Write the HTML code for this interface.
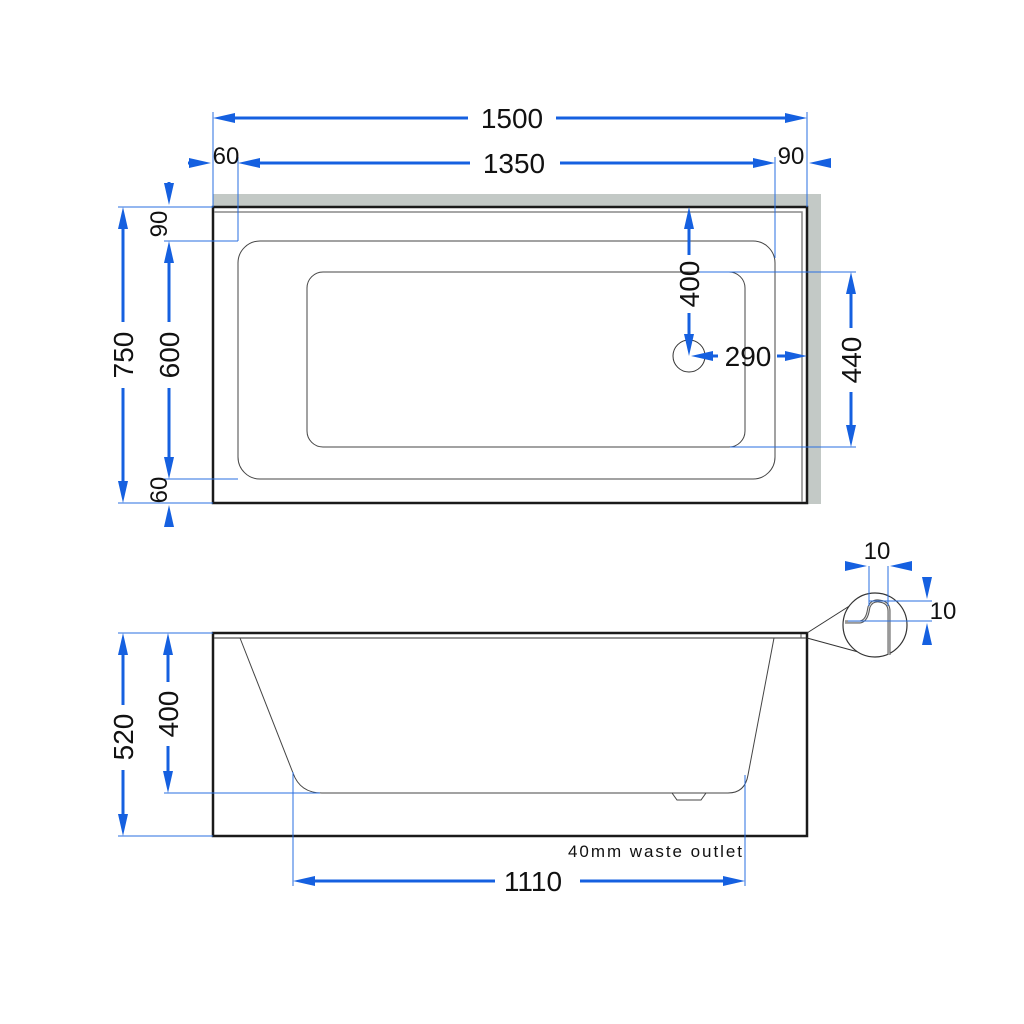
<!DOCTYPE html>
<html><head><meta charset="utf-8"><style>
html,body{margin:0;padding:0;background:#fff}
svg{display:block}
text{font-family:"Liberation Sans",sans-serif;fill:#111}
</style></head><body>
<svg width="1024" height="1024" viewBox="0 0 1024 1024" xmlns="http://www.w3.org/2000/svg">
<rect width="1024" height="1024" fill="#fff"/>
<!-- TOP VIEW -->
<rect x="213" y="194" width="608" height="13" fill="#c3c9c6"/>
<rect x="807" y="194" width="14" height="310" fill="#c3c9c6"/>
<rect x="213" y="207" width="594" height="296" fill="#fff" stroke="#1a1a1a" stroke-width="2.5"/>
<polyline points="214,212 802,212 802,502" fill="none" stroke="#888" stroke-width="1.5"/>
<rect x="238" y="241" width="537" height="238" rx="22" fill="none" stroke="#444" stroke-width="1"/>
<rect x="307" y="272" width="438" height="175" rx="16" fill="none" stroke="#444" stroke-width="1"/>
<circle cx="689" cy="356" r="16" fill="none" stroke="#333" stroke-width="1"/>

<g stroke="#2a6fe0" stroke-width="1" fill="none">
<line x1="213" y1="112" x2="213" y2="207"/>
<line x1="807" y1="112" x2="807" y2="207"/>
<line x1="238" y1="157" x2="238" y2="241"/>
<line x1="775" y1="157" x2="775" y2="258"/>
<line x1="118" y1="207" x2="213" y2="207"/>
<line x1="118" y1="503" x2="213" y2="503"/>
<line x1="164" y1="241" x2="238" y2="241"/>
<line x1="164" y1="479" x2="238" y2="479"/>
<line x1="700" y1="272" x2="856" y2="272"/>
<line x1="730" y1="447" x2="856" y2="447"/>
</g>
<g stroke="#1560e0" stroke-width="3" fill="none">
<line x1="225" y1="118" x2="468" y2="118"/><line x1="556" y1="118" x2="795" y2="118"/>
<line x1="250" y1="163" x2="470" y2="163"/><line x1="560" y1="163" x2="763" y2="163"/>
<line x1="123" y1="219" x2="123" y2="322"/><line x1="123" y1="388" x2="123" y2="491"/>
<line x1="169" y1="253" x2="169" y2="322"/><line x1="169" y1="388" x2="169" y2="467"/>
<line x1="689" y1="219" x2="689" y2="255"/><line x1="689" y1="313" x2="689" y2="344"/>
<line x1="701" y1="356" x2="718" y2="356"/><line x1="777" y1="356" x2="795" y2="356"/>
<line x1="851" y1="284" x2="851" y2="328"/><line x1="851" y1="392" x2="851" y2="435"/>
<line x1="188" y1="163" x2="200" y2="163"/><line x1="830" y1="163" x2="820" y2="163"/>
<line x1="169" y1="182" x2="169" y2="190"/><line x1="169" y1="525" x2="169" y2="518"/>
</g>
<g fill="#1560e0">
<polygon points="213,118 235,113 235,123"/><polygon points="807,118 785,113 785,123"/>
<polygon points="238,163 260,158 260,168"/><polygon points="775,163 753,158 753,168"/>
<polygon points="211,163 189,158 189,168"/><polygon points="809,163 831,158 831,168"/>
<polygon points="123,207 118,229 128,229"/><polygon points="123,503 118,481 128,481"/>
<polygon points="169,241 164,263 174,263"/><polygon points="169,479 164,457 174,457"/>
<polygon points="169,205 164,183 174,183"/><polygon points="169,505 164,527 174,527"/>
<polygon points="689,207 684,229 694,229"/><polygon points="689,356 684,334 694,334"/>
<polygon points="691,356 713,351 713,361"/><polygon points="807,356 785,351 785,361"/>
<polygon points="851,272 846,294 856,294"/><polygon points="851,447 846,425 856,425"/>
</g>
<g font-size="28">
<text x="512" y="128" text-anchor="middle">1500</text>
<text x="514" y="173" text-anchor="middle">1350</text>
<text x="226" y="164" text-anchor="middle" font-size="24">60</text>
<text x="791" y="164" text-anchor="middle" font-size="24">90</text>
<text x="748" y="366" text-anchor="middle">290</text>
<text transform="translate(133,355) rotate(-90)" text-anchor="middle">750</text>
<text transform="translate(179,355) rotate(-90)" text-anchor="middle">600</text>
<text transform="translate(699,284) rotate(-90)" text-anchor="middle">400</text>
<text transform="translate(861,360) rotate(-90)" text-anchor="middle">440</text>
<text transform="translate(167,224) rotate(-90)" text-anchor="middle" font-size="24">90</text>
<text transform="translate(167,490) rotate(-90)" text-anchor="middle" font-size="24">60</text>
</g>

<!-- SIDE VIEW -->
<rect x="213" y="633" width="594" height="203" fill="none" stroke="#1a1a1a" stroke-width="2.5"/>
<line x1="214" y1="638" x2="806" y2="638" stroke="#555" stroke-width="1.2"/>
<line x1="801" y1="634" x2="801" y2="638" stroke="#555" stroke-width="1"/>
<path d="M240,638 L293,773 Q300,793 322,793 L728,793 Q745,793 748,775 L774,638" fill="none" stroke="#444" stroke-width="1"/>
<path d="M672,793 L677,800 L701,800 L706,793" fill="none" stroke="#444" stroke-width="1"/>
<line x1="807" y1="633" x2="862" y2="598" stroke="#333" stroke-width="1"/>
<line x1="807" y1="638" x2="862" y2="653" stroke="#333" stroke-width="1"/>
<circle cx="875" cy="625" r="32" fill="#fff" stroke="#333" stroke-width="1.2"/>
<path d="M845,622 L860,622 Q866,621 868,612 L869,607 Q872,600 879,601 Q889,602 889,611 L889,655" fill="none" stroke="#555" stroke-width="3"/>
<path d="M845,622 L860,622 Q866,621 868,612 L869,607 Q872,600 879,601 Q889,602 889,611 L889,655" fill="none" stroke="#ddd" stroke-width="1"/>

<g stroke="#2a6fe0" stroke-width="1" fill="none">
<line x1="118" y1="633" x2="213" y2="633"/>
<line x1="118" y1="836" x2="213" y2="836"/>
<line x1="164" y1="793" x2="320" y2="793"/>
<line x1="293" y1="772" x2="293" y2="886"/>
<line x1="745" y1="775" x2="745" y2="886"/>
<line x1="869" y1="566" x2="869" y2="606"/>
<line x1="888" y1="566" x2="888" y2="606"/>
<line x1="869" y1="601" x2="932" y2="601"/>
<line x1="848" y1="621" x2="932" y2="621"/>
</g>
<g stroke="#1560e0" stroke-width="3" fill="none">
<line x1="123" y1="645" x2="123" y2="705"/><line x1="123" y1="770" x2="123" y2="824"/>
<line x1="168" y1="645" x2="168" y2="682"/><line x1="168" y1="746" x2="168" y2="781"/>
<line x1="305" y1="881" x2="495" y2="881"/><line x1="580" y1="881" x2="733" y2="881"/>
</g>
<g fill="#1560e0">
<polygon points="123,633 118,655 128,655"/><polygon points="123,836 118,814 128,814"/>
<polygon points="168,633 163,655 173,655"/><polygon points="168,793 163,771 173,771"/>
<polygon points="293,881 315,876 315,886"/><polygon points="745,881 723,876 723,886"/>
<polygon points="867,566 845,561 845,571"/><polygon points="890,566 912,561 912,571"/>
<polygon points="927,599 922,577 932,577"/><polygon points="927,623 922,645 932,645"/>
</g>
<g font-size="28">
<text x="533" y="891" text-anchor="middle">1110</text>
<text transform="translate(133,737) rotate(-90)" text-anchor="middle">520</text>
<text transform="translate(178,714) rotate(-90)" text-anchor="middle">400</text>
<text x="877" y="559" text-anchor="middle" font-size="24">10</text>
<text x="943" y="619" text-anchor="middle" font-size="24">10</text>
</g>
<text x="568" y="857" font-size="17" textLength="174" lengthAdjust="spacing">40mm waste outlet</text>
</svg>
</body></html>
